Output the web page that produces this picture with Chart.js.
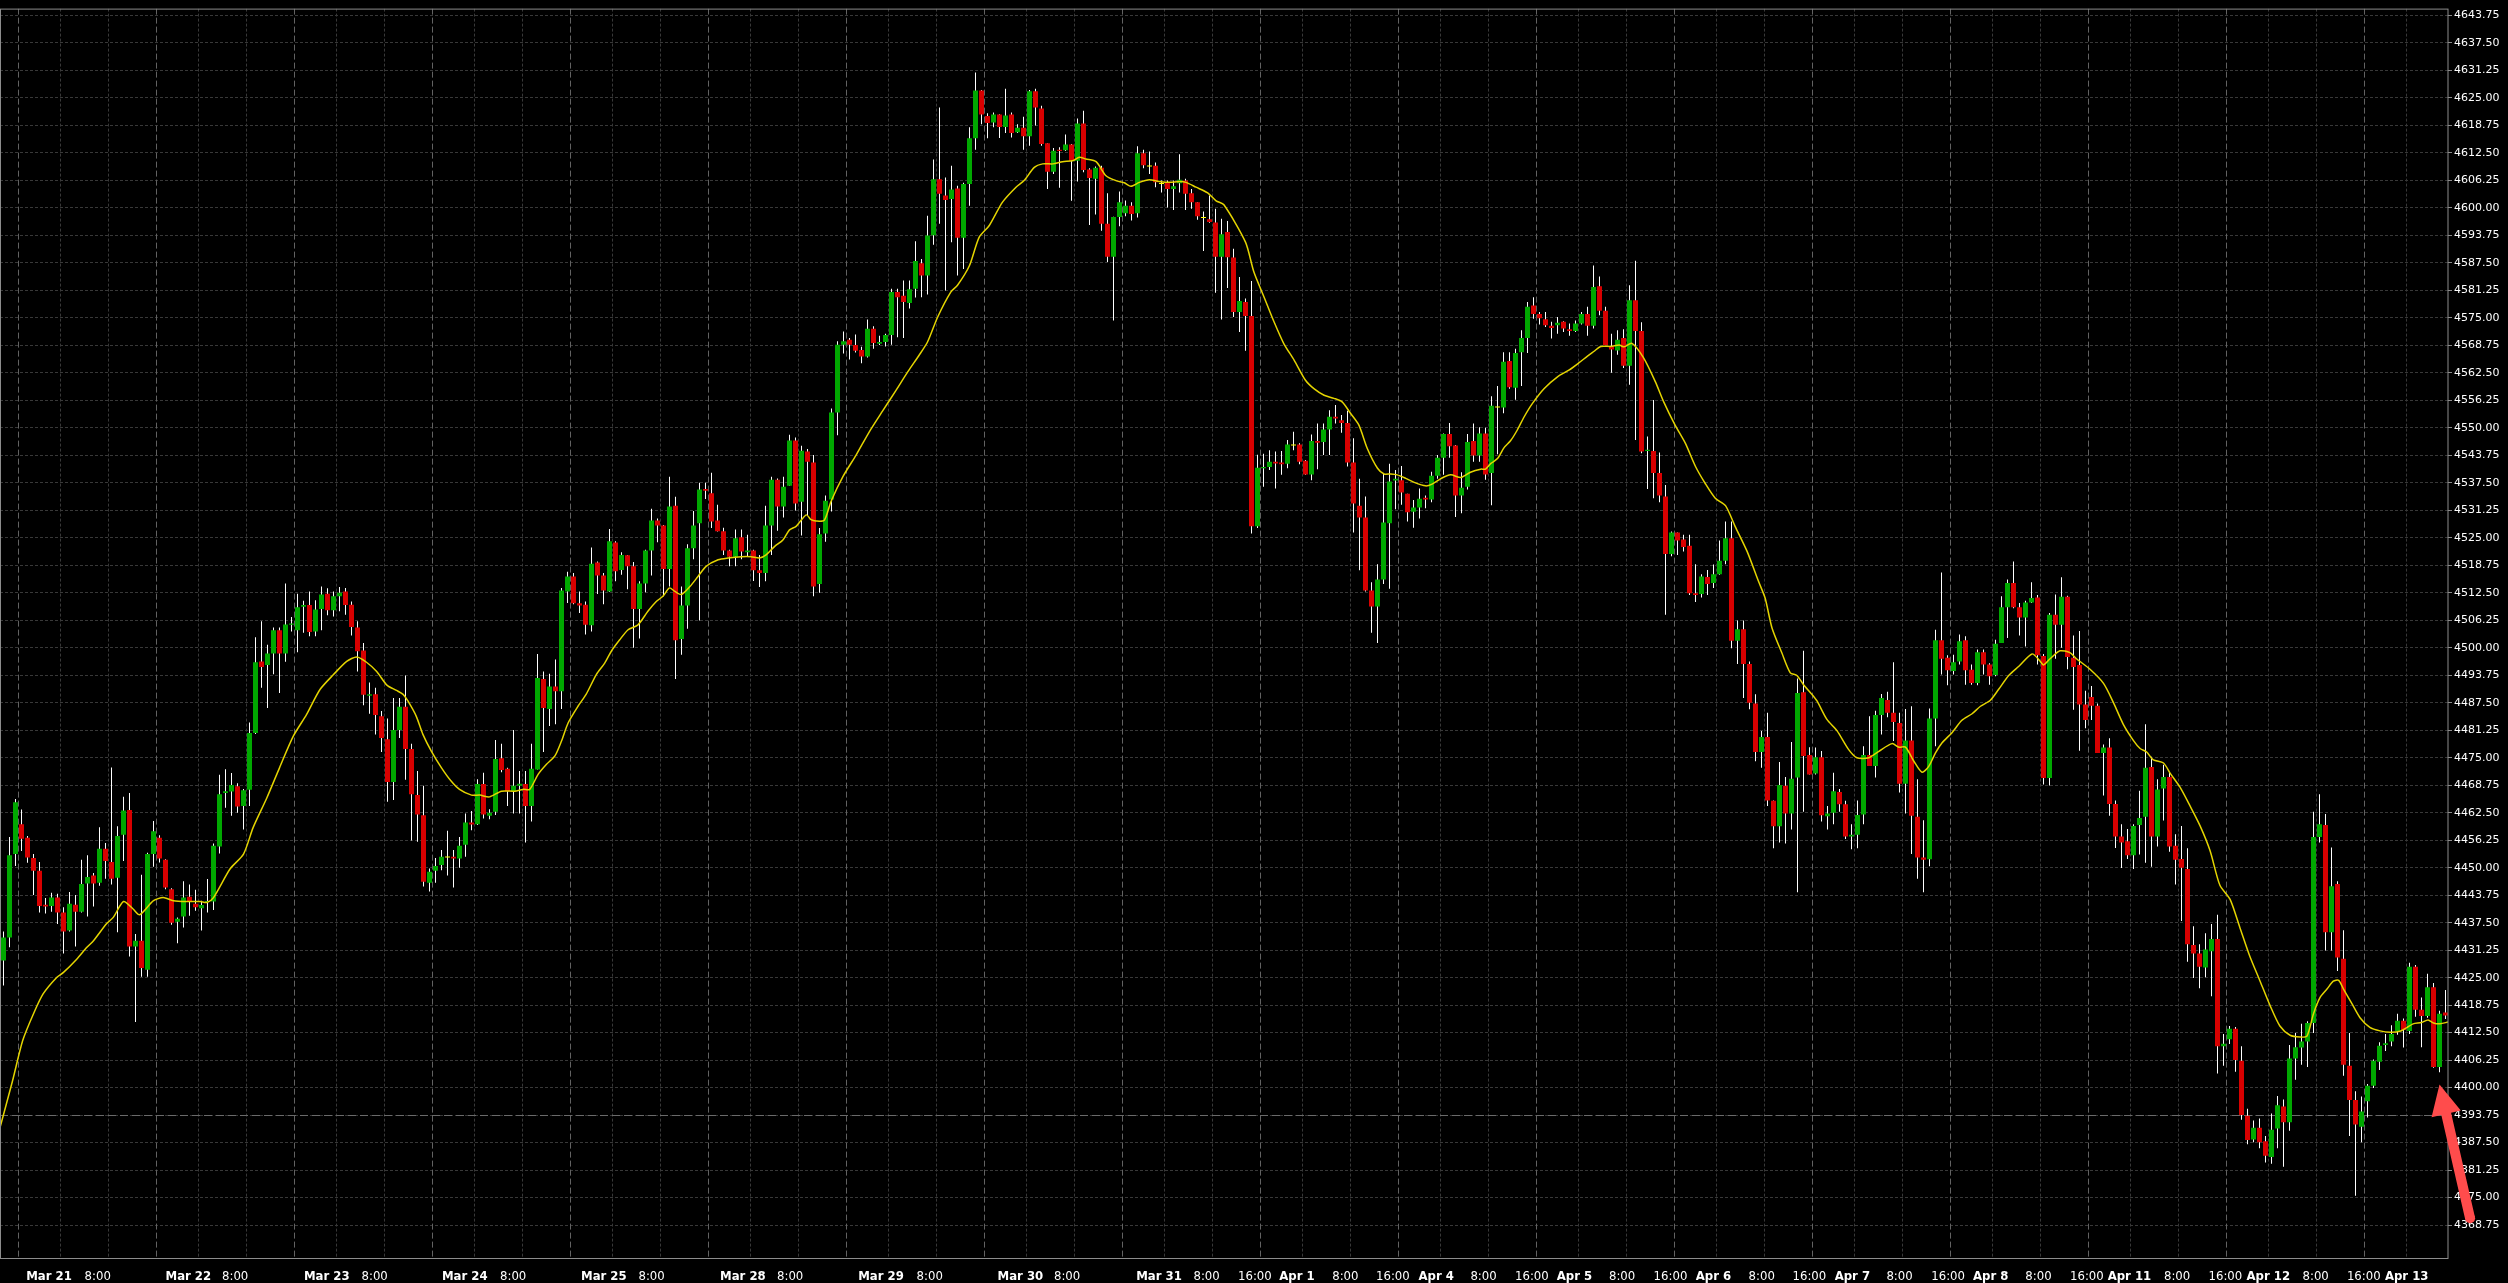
<!DOCTYPE html>
<html>
<head>
<meta charset="utf-8">
<script src="https://cdn.jsdelivr.net/npm/chart.js@4.4.1/dist/chart.umd.min.js"></script>
<style>
html, body { margin: 0; padding: 0; background: #000; overflow: hidden; }
canvas { display: block; }
</style>
</head>
<body>
<canvas id="myChart" width="2508" height="1283"></canvas>
<script>
// H1 candles, index 0 = first bar on the left
var opens = [
4428.9,4434.1,4453.1,4459.9,4456.8,4452.2,4449.3,4441.6,4441.3,4443.2,
4439.8,4435.7,4441.6,4440.0,4446.4,4448.2,4446.6,4454.3,4451.3,4447.7,
4457.5,4463.1,4432.1,4433.4,4426.8,4453.1,4456.8,4451.8,4445.1,4437.7,
4438.9,4443.4,4441.8,4440.8,4442.2,4442.3,4454.8,4467.0,4467.3,4468.5,
4464.0,4467.7,4480.6,4496.9,4496.1,4498.7,4504.0,4498.7,4505.2,4504.0,
4509.3,4509.7,4503.7,4508.8,4512.3,4508.5,4511.7,4512.8,4509.8,4504.6,
4499.4,4489.1,4489.4,4484.4,4479.2,4469.5,4481.3,4486.6,4477.0,4466.5,
4461.9,4446.6,4449.3,4450.6,4452.3,4452.5,4452.1,4455.2,4460.3,4459.9,
4469.0,4461.8,4462.7,4474.9,4472.5,4467.4,4468.6,4469.0,4464.0,4472.3,
4492.9,4486.1,4491.2,4490.1,4512.8,4516.2,4510.1,4509.8,4505.1,4519.4,
4516.4,4512.8,4523.9,4517.7,4521.0,4518.5,4508.8,4514.6,4522.1,4528.9,
4527.8,4517.9,4532.3,4502.0,4509.6,4522.6,4528.3,4536.1,4535.1,4528.9,
4526.5,4522.1,4520.7,4525.1,4521.7,4522.1,4517.6,4517.0,4527.8,4538.2,
4532.1,4536.8,4547.1,4533.2,4544.6,4542.1,4514.5,4526.0,4533.7,4553.5,
4568.9,4570.0,4568.8,4567.7,4566.2,4572.5,4569.1,4569.5,4571.1,4580.9,
4580.0,4578.4,4581.6,4587.4,4584.6,4593.8,4606.5,4602.8,4602.0,4604.4,
4593.2,4605.4,4615.8,4626.7,4620.9,4619.4,4621.2,4618.4,4621.2,4617.2,
4618.2,4616.3,4626.5,4622.6,4614.7,4608.2,4613.2,4613.1,4614.4,4610.7,
4619.2,4608.7,4606.6,4609.1,4596.4,4588.9,4597.9,4598.8,4600.5,4598.8,
4612.4,4609.4,4609.6,4605.4,4605.8,4604.3,4605.6,4606.2,4603.3,4601.3,
4597.7,4597.4,4596.7,4588.9,4594.5,4588.7,4576.3,4578.6,4575.4,4527.6,
4540.8,4541.1,4542.3,4542.1,4541.8,4546.0,4546.2,4542.5,4539.4,4547.0,
4546.8,4549.6,4552.5,4551.7,4551.1,4542.1,4532.3,4529.6,4513.0,4509.4,
4515.5,4528.3,4538.0,4538.1,4535.0,4530.9,4531.9,4534.1,4533.7,4539.1,
4543.2,4548.6,4546.0,4534.6,4536.6,4547.0,4543.7,4548.7,4539.7,4554.6,
4554.6,4565.2,4559.1,4567.2,4570.4,4577.8,4575.9,4574.7,4573.2,4573.3,
4574.1,4572.4,4572.0,4573.7,4575.9,4573.2,4582.2,4576.6,4568.5,4567.6,
4570.4,4564.1,4579.0,4572.0,4544.7,4544.7,4539.7,4534.4,4521.3,4526.2,
4524.6,4523.2,4512.4,4512.2,4516.1,4514.7,4516.7,4519.8,4524.9,4501.6,
4504.2,4496.3,4487.3,4476.3,4479.7,4465.2,4459.4,4468.6,4462.3,4470.5,
4489.9,4475.6,4471.4,4475.1,4461.7,4462.5,4467.2,4464.4,4457.1,4457.5,
4462.1,4475.6,4473.1,4484.7,4488.1,4485.2,4482.9,4469.1,4478.9,4461.6,
4452.3,4451.9,4483.9,4501.7,4497.7,4494.7,4496.9,4501.7,4495.0,4492.0,
4499.0,4496.2,4493.8,4501.1,4509.2,4514.7,4509.2,4506.9,4510.3,4511.4,
4498.1,4470.4,4507.5,4505.2,4511.6,4497.7,4496.1,4487.1,4488.8,4486.8,
4476.1,4477.3,4464.5,4457.1,4456.0,4452.8,4459.7,4461.6,4472.9,4457.1,
4468.0,4470.6,4455.0,4452.0,4449.7,4432.4,4430.5,4427.3,4431.0,4433.8,
4409.4,4411.0,4413.4,4406.1,4393.6,4388.2,4390.9,4387.8,4384.2,4390.7,
4395.7,4392.1,4406.6,4409.1,4410.5,4414.7,4457.0,4459.7,4435.3,4446.3,
4429.3,4405.0,4397.2,4391.1,4396.9,4400.4,4405.9,4409.7,4410.5,4412.9,
4415.2,4412.9,4427.5,4417.7,4416.3,4422.8,4404.7,4417.1
];
var highs = [
4435.5,4457.0,4465.6,4463.2,4457.2,4453.1,4451.3,4443.1,4444.3,4444.1,
4441.0,4444.5,4443.8,4451.8,4452.8,4448.8,4459.2,4455.6,4472.8,4459.4,
4466.1,4467.0,4434.9,4448.4,4453.4,4460.6,4457.4,4451.9,4445.3,4438.7,
4446.9,4446.2,4445.0,4442.5,4447.4,4455.5,4471.1,4472.4,4471.5,4469.2,
4467.9,4483.0,4502.4,4506.0,4500.7,4504.6,4504.6,4514.6,4507.0,4512.3,
4510.7,4512.8,4510.8,4513.9,4513.5,4512.8,4513.8,4513.6,4510.5,4506.0,
4501.1,4492.1,4490.9,4485.6,4483.9,4488.6,4488.6,4493.7,4478.2,4472.0,
4468.6,4449.8,4452.2,4454.0,4458.4,4454.0,4457.0,4462.3,4462.9,4470.1,
4471.6,4463.3,4479.0,4478.2,4472.7,4481.3,4472.0,4472.0,4478.2,4498.6,
4494.6,4494.1,4497.3,4513.6,4517.3,4517.0,4512.8,4510.5,4522.8,4519.6,
4517.0,4527.0,4524.2,4521.7,4521.1,4519.5,4515.1,4522.3,4531.6,4529.4,
4527.9,4538.9,4534.3,4513.9,4523.5,4531.1,4537.5,4537.5,4539.8,4532.5,
4527.3,4522.3,4526.9,4526.9,4525.7,4522.3,4521.1,4532.3,4538.9,4538.5,
4538.9,4548.4,4547.8,4545.9,4545.2,4543.8,4527.2,4534.6,4554.4,4569.7,
4571.9,4570.4,4571.2,4568.4,4574.6,4573.1,4570.9,4571.4,4581.6,4581.6,
4583.5,4583.5,4592.4,4588.4,4598.2,4611.0,4622.8,4606.9,4609.6,4605.0,
4605.7,4618.3,4630.8,4626.8,4621.5,4621.7,4621.3,4627.1,4621.7,4619.0,
4620.7,4626.8,4627.1,4623.2,4614.7,4613.6,4613.8,4616.7,4614.5,4620.3,
4622.1,4609.0,4609.4,4609.6,4603.3,4598.0,4603.7,4601.7,4601.3,4614.0,
4613.2,4612.8,4610.3,4606.2,4606.2,4606.2,4612.2,4606.6,4604.3,4601.3,
4599.2,4602.8,4599.8,4597.5,4597.0,4590.7,4584.3,4579.4,4583.4,4543.9,
4544.1,4544.9,4544.6,4544.7,4547.2,4549.1,4546.5,4542.7,4548.5,4551.0,
4551.0,4554.0,4555.2,4552.9,4553.9,4547.6,4538.4,4534.4,4514.9,4519.0,
4539.7,4541.8,4540.4,4541.3,4535.0,4533.6,4536.2,4534.6,4540.0,4543.8,
4548.7,4551.1,4546.1,4539.9,4548.6,4551.0,4550.1,4550.0,4557.2,4559.5,
4567.2,4567.2,4568.0,4572.2,4578.6,4579.7,4576.3,4576.3,4574.1,4575.2,
4574.2,4573.7,4574.4,4576.3,4577.5,4586.9,4584.4,4577.5,4571.4,4572.2,
4572.4,4582.4,4588.0,4574.0,4548.0,4556.3,4544.4,4537.0,4526.4,4526.2,
4525.7,4525.7,4519.0,4516.7,4517.7,4518.9,4524.4,4528.7,4528.7,4506.2,
4506.2,4496.9,4489.4,4481.1,4485.2,4465.3,4474.0,4470.6,4478.6,4493.0,
4499.3,4477.4,4477.3,4476.5,4464.0,4471.6,4467.9,4465.2,4459.9,4465.3,
4477.6,4484.4,4485.7,4489.5,4490.0,4496.7,4485.2,4486.1,4486.7,4470.1,
4460.8,4486.2,4504.1,4517.1,4498.3,4498.4,4503.0,4502.6,4496.2,4499.6,
4499.6,4496.5,4501.8,4511.7,4515.5,4519.6,4510.2,4510.7,4514.9,4512.0,
4498.6,4507.9,4512.1,4516.0,4511.8,4502.8,4503.8,4490.2,4491.3,4487.3,
4478.0,4479.4,4465.3,4459.9,4458.8,4459.9,4467.5,4482.6,4475.2,4470.1,
4473.4,4471.7,4457.6,4459.5,4454.4,4436.7,4432.6,4435.1,4437.2,4439.3,
4412.2,4414.0,4413.8,4409.4,4395.2,4392.5,4393.0,4389.0,4394.1,4398.1,
4397.3,4409.7,4412.4,4414.5,4415.1,4462.7,4466.7,4462.2,4454.6,4446.9,
4435.8,4412.4,4399.2,4398.0,4400.8,4406.4,4410.3,4412.2,4414.2,4416.8,
4415.7,4428.4,4427.9,4420.5,4425.9,4423.8,4417.5,4422.2
];
var lows = [
4423.2,4431.9,4450.4,4453.8,4451.1,4443.8,4439.8,4439.6,4440.0,4437.2,
4430.5,4435.5,4432.1,4439.8,4438.9,4441.2,4445.9,4447.5,4446.2,4435.3,
4451.5,4429.8,4414.9,4425.2,4425.2,4450.2,4451.2,4445.1,4437.0,4432.8,
4436.4,4439.1,4440.2,4435.7,4439.8,4440.4,4453.2,4463.6,4461.8,4462.5,
4458.7,4464.0,4480.4,4490.9,4486.3,4494.0,4489.7,4496.8,4503.7,4499.0,
4503.4,4502.6,4502.6,4504.0,4507.4,4507.1,4508.3,4507.5,4502.8,4494.6,
4486.9,4485.0,4480.3,4476.3,4465.0,4465.4,4479.5,4470.0,4456.2,4455.9,
4445.7,4444.6,4446.6,4449.4,4448.2,4445.5,4450.0,4452.5,4458.5,4459.7,
4461.2,4461.0,4462.0,4471.7,4464.0,4462.3,4462.3,4455.7,4460.5,4472.3,
4476.3,4482.2,4482.6,4486.1,4510.2,4509.9,4507.9,4503.0,4503.7,4512.2,
4509.9,4512.7,4515.1,4516.6,4513.3,4500.0,4502.1,4512.6,4516.4,4524.0,
4511.7,4513.9,4492.9,4498.4,4504.3,4520.1,4506.2,4533.8,4527.2,4526.4,
4521.1,4518.5,4518.5,4520.1,4520.7,4515.2,4513.8,4515.1,4521.1,4526.6,
4529.6,4536.8,4531.2,4525.5,4530.0,4511.7,4512.5,4524.1,4531.0,4548.3,
4566.9,4565.5,4567.1,4564.7,4566.0,4568.0,4568.8,4568.5,4568.9,4570.6,
4570.4,4577.1,4579.6,4579.7,4580.3,4591.6,4596.4,4581.2,4592.2,4584.6,
4586.1,4600.5,4613.2,4619.0,4615.8,4618.3,4615.9,4617.0,4616.0,4617.0,
4613.2,4614.1,4618.7,4614.1,4604.3,4607.7,4604.6,4612.9,4601.6,4606.0,
4608.1,4596.1,4598.5,4594.8,4587.7,4574.4,4595.8,4598.1,4597.1,4597.8,
4609.0,4607.7,4604.7,4603.5,4600.1,4599.5,4603.5,4599.5,4599.8,4597.3,
4590.2,4596.6,4580.7,4574.6,4581.8,4575.2,4571.8,4567.5,4526.0,4527.2,
4536.6,4540.4,4536.2,4539.3,4540.8,4544.9,4541.7,4539.3,4538.1,4540.6,
4543.8,4543.8,4551.0,4548.9,4541.2,4526.2,4517.6,4512.8,4503.4,4501.1,
4514.5,4513.4,4531.5,4532.5,4528.7,4527.3,4529.4,4531.7,4533.1,4538.4,
4539.3,4543.2,4529.7,4530.6,4536.0,4542.3,4542.3,4538.2,4532.4,4544.0,
4553.3,4558.9,4556.4,4559.5,4567.0,4574.8,4573.5,4572.9,4570.3,4571.4,
4571.8,4570.9,4571.8,4573.5,4570.9,4572.6,4575.6,4568.8,4562.5,4566.6,
4563.6,4559.8,4547.2,4544.2,4536.1,4534.0,4533.1,4507.5,4520.8,4521.1,
4521.9,4512.0,4510.4,4511.4,4512.0,4513.6,4516.6,4519.0,4499.9,4496.3,
4488.6,4486.0,4474.2,4472.7,4464.0,4454.4,4455.7,4455.5,4458.7,4444.4,
4462.7,4471.2,4471.2,4460.5,4458.7,4459.9,4462.7,4456.5,4454.2,4454.4,
4459.9,4473.1,4470.5,4480.3,4484.2,4478.8,4467.1,4462.3,4453.1,4447.5,
4444.4,4450.3,4477.6,4493.9,4491.5,4493.9,4496.2,4491.6,4491.6,4491.5,
4493.9,4491.6,4493.5,4501.1,4502.2,4509.0,4502.8,4500.3,4510.2,4496.2,
4468.9,4468.7,4497.5,4500.0,4495.1,4485.9,4476.6,4481.7,4483.6,4476.1,
4466.4,4461.8,4454.5,4449.9,4452.0,4449.7,4453.0,4451.1,4450.2,4454.8,
4460.7,4453.6,4446.2,4437.9,4428.6,4424.9,4422.6,4425.1,4420.8,4403.2,
4405.0,4409.9,4403.6,4392.7,4387.1,4387.6,4386.2,4383.0,4382.7,4386.2,
4382.0,4390.2,4401.8,4405.2,4404.7,4412.4,4455.7,4431.2,4431.2,4426.5,
4402.7,4389.0,4375.4,4387.6,4393.2,4399.9,4404.0,4408.3,4409.4,4412.0,
4409.1,4412.2,4416.1,4409.2,4415.9,4404.5,4403.5,4415.6
];
var closes = [
4434.1,4452.8,4464.9,4456.6,4452.3,4449.3,4441.3,4441.2,4443.2,4439.8,
4435.5,4441.8,4440.0,4446.3,4447.9,4446.4,4454.3,4451.5,4447.5,4457.2,
4463.0,4432.1,4433.4,4427.2,4453.1,4458.3,4452.1,4445.5,4437.5,4438.4,
4443.2,4442.2,4441.0,4441.5,4442.4,4455.0,4466.7,4467.4,4468.8,4463.9,
4467.6,4480.6,4496.7,4495.6,4498.7,4504.0,4498.7,4505.3,4505.5,4509.2,
4509.7,4503.6,4508.7,4512.1,4508.5,4511.7,4512.5,4509.7,4504.7,4499.2,
4489.3,4489.4,4484.7,4479.5,4469.5,4481.3,4486.6,4477.0,4466.7,4462.1,
4446.8,4449.1,4450.4,4452.5,4452.3,4452.1,4455.0,4460.3,4459.8,4469.0,
4462.1,4462.5,4474.7,4472.2,4467.4,4468.6,4469.1,4464.0,4472.5,4493.1,
4486.3,4491.2,4490.1,4513.0,4516.2,4510.1,4509.6,4505.2,4519.1,4516.4,
4513.0,4524.2,4517.4,4521.1,4518.5,4508.8,4514.6,4522.1,4528.9,4527.8,
4517.9,4532.1,4501.7,4509.6,4522.6,4527.8,4536.0,4535.7,4528.7,4526.5,
4522.1,4520.7,4524.9,4521.9,4522.1,4517.6,4517.0,4527.8,4538.2,4532.1,
4536.6,4547.1,4532.8,4544.8,4542.3,4513.9,4525.8,4533.4,4553.5,4568.9,
4569.7,4568.9,4567.5,4566.2,4572.5,4569.3,4569.5,4571.1,4580.9,4579.7,
4578.6,4581.5,4587.9,4584.6,4593.7,4606.5,4603.2,4601.8,4604.2,4593.2,
4605.4,4615.8,4626.7,4621.2,4619.3,4621.2,4618.4,4621.0,4617.0,4618.2,
4616.3,4626.5,4622.8,4614.5,4608.2,4613.0,4612.9,4614.4,4610.7,4619.2,
4608.6,4606.8,4609.1,4596.4,4588.9,4597.9,4601.3,4600.5,4598.6,4612.4,
4609.7,4609.4,4605.8,4605.4,4604.3,4604.9,4606.4,4603.2,4601.3,4598.1,
4597.7,4596.8,4588.9,4594.0,4588.8,4576.3,4578.8,4575.4,4527.6,4540.9,
4541.1,4542.3,4541.9,4541.7,4546.2,4546.0,4542.3,4539.4,4547.0,4546.6,
4549.6,4552.5,4552.1,4551.1,4542.1,4532.8,4529.6,4513.0,4509.4,4515.5,
4528.5,4537.8,4538.4,4535.3,4530.8,4531.9,4533.9,4533.7,4539.1,4543.2,
4548.6,4545.8,4534.6,4536.4,4546.8,4543.7,4548.7,4539.4,4555.0,4554.6,
4565.0,4559.2,4567.0,4570.4,4577.5,4575.9,4574.9,4573.3,4572.7,4573.9,
4572.6,4572.0,4573.7,4575.9,4573.2,4582.0,4576.6,4568.8,4567.8,4570.0,
4564.1,4579.0,4572.0,4544.6,4545.0,4539.7,4534.6,4521.3,4526.2,4524.4,
4522.9,4512.4,4512.0,4516.2,4514.5,4516.7,4519.8,4524.9,4501.6,4504.2,
4496.3,4487.5,4476.3,4479.7,4465.3,4459.4,4468.8,4462.3,4470.2,4489.7,
4475.4,4471.2,4475.1,4461.9,4462.3,4467.4,4464.4,4457.1,4457.5,4462.0,
4475.6,4473.1,4484.7,4488.6,4485.2,4483.1,4469.1,4478.9,4461.8,4452.3,
4451.8,4483.9,4501.7,4497.5,4494.9,4496.7,4501.5,4494.9,4492.0,4499.0,
4496.2,4493.5,4500.9,4509.2,4514.7,4509.2,4506.9,4510.3,4511.3,4498.3,
4470.4,4507.5,4505.2,4511.6,4497.9,4495.6,4487.1,4483.6,4486.8,4476.1,
4477.3,4464.5,4457.1,4455.7,4452.8,4459.5,4461.3,4472.7,4457.1,4467.8,
4470.6,4454.8,4451.8,4450.0,4432.6,4430.5,4427.5,4431.4,4433.8,4409.4,
4410.0,4413.4,4406.3,4393.8,4388.1,4390.9,4387.6,4384.5,4390.4,4396.0,
4392.1,4406.6,4409.2,4410.5,4414.7,4457.0,4459.9,4435.3,4445.8,4429.6,
4405.2,4397.2,4391.6,4394.6,4400.4,4406.1,4409.5,4410.1,4412.2,4415.2,
4413.1,4427.5,4417.7,4416.3,4422.8,4404.7,4416.8,4416.4
];

// yellow moving average as [bar index, price]
var maPoints = [
[-0.6,4390.8],[1.5,4401.5],[3.2,4410.7],[5,4416.8],[6.6,4421.3],[8.9,4425.1],[10,4426.2],[12.2,4429.2],
[13.9,4431.9],[15,4433.4],[17.2,4437.3],[18.3,4438.7],[20,4442.3],[21.6,4440.6],[22.7,4439.3],[25,4442.5],
[26.6,4443.2],[28.3,4442.5],[30.5,4442.3],[32.8,4442.3],[33.9,4442.1],[35,4443.2],[37.75,4449.7],[40,4453.1],
[41.6,4459.1],[43.9,4465.9],[46,4472.7],[48.3,4479.9],[50.5,4484.8],[52.75,4490.5],[55,4493.9],[57.2,4496.9],
[58.9,4497.9],[60.5,4496.7],[62.2,4494.6],[63.9,4491.5],[65.5,4490.3],[66.6,4489.4],[67.4,4487.9],[68.8,4484.4],
[69.9,4480.3],[71.3,4476.5],[73,4472.7],[74.6,4469.7],[76,4467.8],[78,4466.5],[79.4,4466.5],[81,4466.1],
[83,4467.4],[85.2,4467.4],[86.6,4467.8],[87.7,4467.8],[89.1,4471.2],[90.5,4473.5],[91.9,4475.4],[93,4478.8],
[94.1,4482.9],[95.75,4486.7],[97.1,4489.4],[98.8,4493.9],[100.2,4496.5],[101.3,4499.2],[102.7,4501.8],[104.1,4504.1],
[105.75,4505.2],[107.4,4508.3],[108.8,4510.5],[109.9,4511.7],[111,4513.6],[111.9,4512.8],[113,4512.1],[114.4,4513.9],
[115.75,4516.2],[117.1,4518.5],[119.1,4520.0],[120.75,4520.4],[123,4520.7],[124.6,4520.7],[126,4520.4],[127.1,4521.1],
[128.5,4523.0],[129.9,4524.5],[131,4526.8],[132.1,4527.6],[133.8,4530.2],[134.6,4529.1],[135.4,4528.8],[136.8,4529.0],
[137.9,4533.2],[139.9,4538.9],[142.1,4543.8],[144.3,4549.1],[146.5,4553.8],[148.75,4558.5],[150.7,4562.7],[152.6,4566.5],
[154,4569.5],[155.7,4575.2],[157.9,4580.9],[159,4582.4],[161,4586.9],[162.6,4593.3],[164.3,4596.0],[166.5,4601.3],
[168.75,4604.7],[170.1,4606.2],[171.8,4609.2],[173.2,4610.0],[174.9,4610.0],[176.5,4610.5],[178.2,4610.7],[179.3,4611.5],
[180.4,4611.1],[182.1,4610.5],[183.75,4607.3],[185.4,4606.2],[186.8,4605.7],[187.9,4604.9],[189.3,4605.8],[191,4606.4],
[192.6,4606.0],[194.3,4605.8],[196,4606.0],[197.1,4605.8],[198.75,4604.7],[200.7,4603.4],[202.1,4601.6],[203.4,4600.7],
[207,4592.2],[208.4,4585.4],[210.1,4579.7],[211.75,4574.1],[213.4,4569.1],[215.1,4565.4],[217,4560.8],[218.4,4558.9],
[220.1,4557.4],[221.75,4556.7],[223.1,4555.9],[224.5,4553.3],[225.9,4550.6],[227.3,4545.3],[229,4540.8],[230.1,4539.5],
[231.2,4539.5],[232.3,4539.3],[233.7,4538.5],[235.1,4537.6],[237,4536.8],[238.1,4537.2],[239.5,4538.4],[241.2,4539.3],
[242.9,4538.7],[244.5,4539.9],[246.2,4540.6],[247,4540.6],[247.9,4541.9],[249,4543.0],[250.1,4545.5],[251.2,4547.1],
[252.3,4549.5],[253.4,4552.4],[254.8,4555.5],[256.75,4558.9],[259,4561.6],[260.9,4563.1],[262.6,4564.8],[264,4566.3],
[265.1,4567.4],[266.2,4568.5],[267.9,4568.5],[269.3,4568.8],[270.1,4568.4],[271.4,4569.2],[273.3,4566.0],[275.3,4560.5],
[276.7,4555.9],[278.6,4550.6],[280.3,4546.5],[282,4541.2],[283.6,4537.4],[285.3,4534.0],[287,4532.3],[288.6,4527.6],
[290.6,4521.9],[292.5,4515.1],[293.6,4511.3],[294.75,4504.5],[296.4,4498.8],[297.8,4494.3],[298.9,4493.7],[300,4491.6],
[301.4,4489.4],[302.25,4487.9],[303.9,4483.7],[305.6,4481.1],[307.5,4476.9],[308.9,4475.0],[310.9,4475.0],[312.5,4476.4],
[314.75,4478.2],[315.9,4477.4],[317,4477.4],[318.4,4474.2],[319.75,4471.7],[320.9,4473.1],[322,4476.1],[323.1,4478.4],
[324.75,4480.7],[326.4,4483.5],[328.1,4485.0],[329.5,4486.7],[331.1,4488.0],[332.5,4490.5],[334.2,4493.7],[335.9,4495.8],
[338.1,4498.6],[339.4,4497.0],[340,4496.1],[341.1,4497.5],[342.75,4499.3],[344.4,4498.9],[345.5,4497.5],[347.75,4495.1],
[350,4491.9],[351.6,4487.7],[353.3,4482.6],[355,4478.9],[356.1,4477.1],[357.2,4476.3],[358.3,4474.5],[360,4473.8],
[361.1,4471.5],[362.75,4468.3],[364.4,4464.1],[366.1,4459.5],[367.75,4453.9],[369.4,4446.0],[371.1,4442.8],[372.75,4436.3],
[374.4,4429.8],[376.1,4424.2],[377.75,4418.7],[379.4,4414.0],[381.1,4411.9],[382.75,4411.5],[383.9,4411.7],[385,4416.8],
[386.1,4420.5],[387.25,4422.4],[388.3,4424.2],[389.2,4424.4],[390,4422.4],[391.4,4419.1],[392.75,4415.9],[394.4,4413.7],
[396.1,4412.9],[397.75,4412.6],[399.4,4412.8],[400.5,4413.6],[401.6,4414.5],[403,4414.8],[404.1,4415.4],[405,4414.7],
[406.1,4414.5],[407.4,4414.9]
];

// time axis labels: [bar position, text]
var xTicks = [
[3.78,'Mar 21'],[13.52,'8:00'],[27.0,'Mar 22'],[36.42,'8:00'],[50.08,'Mar 23'],[59.67,'8:00'],
[73.08,'Mar 24'],[82.75,'8:00'],[96.25,'Mar 25'],[105.83,'8:00'],[119.42,'Mar 28'],[128.92,'8:00'],
[142.45,'Mar 29'],[152.18,'8:00'],[165.67,'Mar 30'],[175.08,'8:00'],[188.78,'Mar 31'],[198.33,'8:00'],
[205.75,'16:00'],[212.62,'Apr 1'],[221.45,'8:00'],[228.75,'16:00'],[235.83,'Apr 4'],[244.48,'8:00'],
[251.92,'16:00'],[258.87,'Apr 5'],[267.58,'8:00'],[275.02,'16:00'],[282.05,'Apr 6'],[290.85,'8:00'],
[298.17,'16:00'],[305.2,'Apr 7'],[313.82,'8:00'],[321.3,'16:00'],[328.25,'Apr 8'],[336.97,'8:00'],
[344.42,'16:00'],[350.7,'Apr 11'],[360.08,'8:00'],[367.5,'16:00'],[373.83,'Apr 12'],[383.17,'8:00'],
[390.57,'16:00'],[396.9,'Apr 13']
];

var yTicks = [
4368.75,4375.00,4381.25,4387.50,4393.75,4400.00,4406.25,4412.50,4418.75,4425.00,
4431.25,4437.50,4443.75,4450.00,4456.25,4462.50,4468.75,4475.00,4481.25,4487.50,
4493.75,4500.00,4506.25,4512.50,4518.75,4525.00,4531.25,4537.50,4543.75,4550.00,
4556.25,4562.50,4568.75,4575.00,4581.25,4587.50,4593.75,4600.00,4606.25,4612.50,
4618.75,4625.00,4631.25,4637.50,4643.75
];

var levelPrice = 4393.6;           // dashed level line
var arrowFrom = [411.1, 4370.3];   // red arrow tail (bar, price)
var arrowTo = [406.0, 4400.7];     // red arrow tip

function fontAvailable(name) {
    var c = document.createElement('canvas').getContext('2d');
    var s = 'Mar 21 16:00 Apr 13';
    c.font = '40px monospace';
    var w1 = c.measureText(s).width;
    c.font = '40px "' + name + '", monospace';
    var w2 = c.measureText(s).width;
    return Math.abs(w1 - w2) > 0.5;
}
var narrow = fontAvailable('Liberation Sans Narrow');
var xFamily = narrow ? "'Liberation Sans Narrow'" : "'DejaVu Sans Condensed'";
var xSize = narrow ? 16 : 13;

var bodyColors = opens.map(function(o, i) {
    if (closes[i] > o) return '#00a800';
    if (closes[i] < o) return '#d80000';
    return '#ffff00';
});

var gridPlugin = {
    id: 'mt4grid',
    beforeDraw: function(chart) {
        var c = chart.ctx;
        c.save();
        c.fillStyle = '#000';
        c.fillRect(0, 0, chart.width, chart.height);
        c.restore();
    },
    beforeDatasetsDraw: function(chart) {
        var c = chart.ctx, ca = chart.chartArea;
        var xs = chart.scales.x, ys = chart.scales.y;
        c.save();
        c.beginPath();
        c.rect(ca.left, ca.top, ca.right - ca.left, ca.bottom - ca.top);
        c.clip();
        c.lineWidth = 1;
        function hline(v) {
            var py = Math.floor(ys.getPixelForValue(v)) + 0.5;
            c.beginPath(); c.moveTo(ca.left, py); c.lineTo(ca.right, py); c.stroke();
        }
        function vline(v) {
            var px = Math.floor(xs.getPixelForValue(v)) + 0.5;
            c.beginPath(); c.moveTo(px, ca.top); c.lineTo(px, ca.bottom); c.stroke();
        }
        c.strokeStyle = '#383838';
        c.setLineDash([3, 2]);
        yTicks.forEach(hline);
        // 23 bars a day; 8:00 and 16:00 lines
        for (var k = 0; k < 18; k++) {
            vline(9.5 + 23 * k);
            vline(17.5 + 23 * k);
        }
        // day separators
        c.strokeStyle = '#626262';
        c.setLineDash([6, 3]);
        for (var d = 0; d < 18; d++) vline(2.5 + 23 * d);
        c.strokeStyle = '#6a6a6a';
        c.setLineDash([8, 4]);
        hline(levelPrice);
        c.restore();
    },
    afterDatasetsDraw: function(chart) {
        var c = chart.ctx, ca = chart.chartArea;
        c.save();
        c.strokeStyle = '#8c8c8c';
        c.lineWidth = 1;
        c.setLineDash([]);
        c.strokeRect(ca.left + 0.5, ca.top + 0.5, ca.right - ca.left - 0.5, ca.bottom - ca.top - 1);
        c.restore();
    },
    afterDraw: function(chart) {
        var c = chart.ctx;
        var xs = chart.scales.x, ys = chart.scales.y;
        var tx = xs.getPixelForValue(arrowTo[0]), ty = ys.getPixelForValue(arrowTo[1]);
        var sx = xs.getPixelForValue(arrowFrom[0]), sy = ys.getPixelForValue(arrowFrom[1]);
        var dx = tx - sx, dy = ty - sy, len = Math.sqrt(dx * dx + dy * dy);
        var ux = dx / len, uy = dy / len, nx = -uy, ny = ux;
        var headLen = 30, headW = 15, shaftW = 5;
        var bx = tx - ux * headLen, by = ty - uy * headLen;
        c.save();
        c.fillStyle = '#ff4c4c';
        c.beginPath();
        c.moveTo(tx, ty);
        c.lineTo(bx + nx * headW, by + ny * headW);
        c.lineTo(bx + nx * shaftW, by + ny * shaftW);
        c.lineTo(sx + nx * shaftW, sy + ny * shaftW);
        c.lineTo(sx - nx * shaftW, sy - ny * shaftW);
        c.lineTo(bx - nx * shaftW, by - ny * shaftW);
        c.lineTo(bx - nx * headW, by - ny * headW);
        c.closePath();
        c.fill();
        c.beginPath();
        c.arc(sx, sy, shaftW, 0, Math.PI * 2);
        c.fill();
        c.restore();
    }
};

var ctx = document.getElementById('myChart').getContext('2d');
var chart = new Chart(ctx, {
    type: 'bar',
    data: {
        datasets: [{
            type: 'line',
            label: 'MA',
            data: maPoints.map(function(p) { return {x: p[0], y: p[1]}; }),
            borderColor: '#e4d400',
            borderWidth: 1.5,
            pointRadius: 0,
            tension: 0.25,
            order: 0
        }, {
            label: 'body',
            data: opens.map(function(o, i) { return {x: i, y: [o, closes[i]]}; }),
            backgroundColor: bodyColors,
            barThickness: 5,
            minBarLength: 1,
            inflateAmount: 0,
            grouped: false,
            order: 1
        }, {
            label: 'wick',
            data: lows.map(function(l, i) { return {x: i, y: [l, highs[i]]}; }),
            backgroundColor: '#ffffff',
            barThickness: 1,
            inflateAmount: 0,
            grouped: false,
            order: 2
        }]
    },
    options: {
        responsive: false,
        animation: false,
        devicePixelRatio: 1,
        events: [],
        layout: { padding: { top: 6, left: 0, right: 0, bottom: 0 } },
        plugins: { legend: { display: false }, tooltip: { enabled: false } },
        scales: {
            x: {
                type: 'linear',
                position: 'bottom',
                min: -3.5 / 6,
                max: 408 - 3.5 / 6,
                offset: false,
                grid: { display: false },
                border: { display: false },
                afterBuildTicks: function(s) {
                    s.ticks = xTicks.map(function(t) { return {value: t[0]}; });
                },
                afterFit: function(s) { s.height = 24; },
                ticks: {
                    autoSkip: false,
                    maxRotation: 0,
                    minRotation: 0,
                    align: 'start',
                    padding: 2,
                    color: '#ffffff',
                    font: function(c) {
                        var t = xTicks[c.index];
                        var bold = t && t[1].indexOf(':') < 0;
                        return { family: xFamily, size: xSize, weight: bold ? 'bold' : 'normal' };
                    },
                    callback: function(v, i) { return xTicks[i] ? xTicks[i][1] : ''; }
                }
            },
            y: {
                type: 'linear',
                position: 'right',
                min: 4361.04,
                max: 4645.30,
                grid: { display: true, drawOnChartArea: false, drawTicks: true, tickLength: 4, tickColor: '#8c8c8c' },
                border: { display: false },
                afterBuildTicks: function(s) {
                    s.ticks = yTicks.map(function(v) { return {value: v}; });
                },
                afterFit: function(s) { s.width = 60; },
                ticks: {
                    autoSkip: false,
                    padding: 2,
                    color: '#ffffff',
                    font: { family: "'DejaVu Sans'", size: 11 },
                    callback: function(v) { return Number(v).toFixed(2); }
                }
            }
        }
    },
    plugins: [gridPlugin]
});
</script>
</body>
</html>
